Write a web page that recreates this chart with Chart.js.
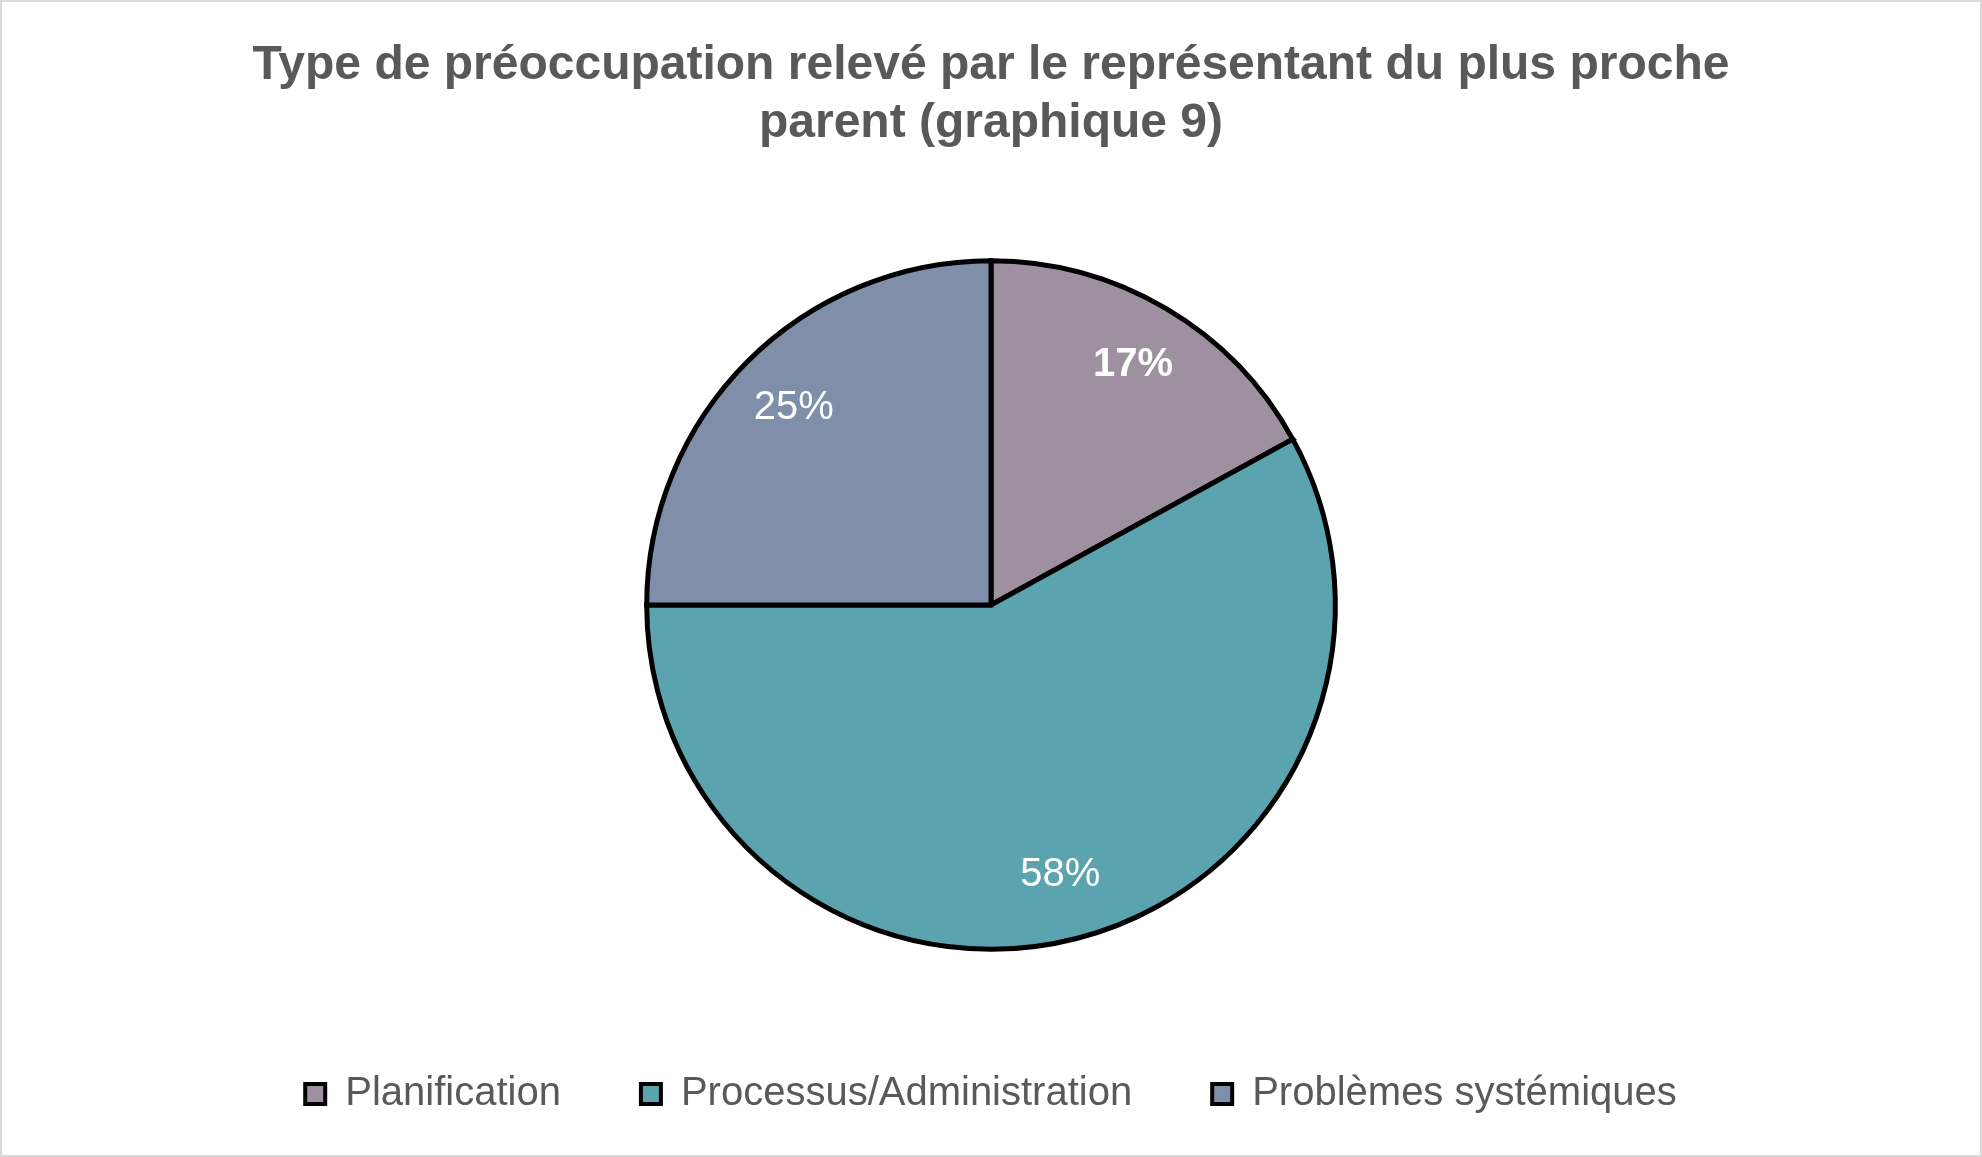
<!DOCTYPE html>
<html lang="fr">
<head>
<meta charset="utf-8">
<title>Graphique 9</title>
<script src="https://cdn.jsdelivr.net/npm/chart.js@4.4.1/dist/chart.umd.min.js"></script>
<style>
  html, body { margin: 0; padding: 0; background: #fff; }
  #wrap {
    width: 1982px;
    height: 1157px;
    box-sizing: border-box;
    border: 2px solid #d9d9d9;
    position: relative;
  }
</style>
</head>
<body>
<div id="wrap"><canvas id="graphique9"></canvas></div>
<script>
const categories = ['Planification', 'Processus/Administration', 'Problèmes systémiques'];
const shares = [17, 58, 25];
const sliceColors = ['#9e90a0', '#5ba3af', '#7f8fa9'];
const titleLines = ['Type de préoccupation relevé par le représentant du plus proche', 'parent (graphique 9)'];

const font = "'Liberation Sans', Arial, sans-serif";

// etiquettes en pourcentage dans chaque part
const sliceLabels = {
    id: 'sliceLabels',
    afterDatasetsDraw(chart) {
        const ctx = chart.ctx;
        const meta = chart.getDatasetMeta(0);
        meta.data.forEach((arc, i) => {
            const p = arc.getProps(['x', 'y', 'startAngle', 'endAngle', 'outerRadius']);
            const mid = (p.startAngle + p.endAngle) / 2;
            const r = p.outerRadius * 0.81;
            ctx.save();
            ctx.fillStyle = '#ffffff';
            ctx.font = (i === 0 ? 'bold ' : '') + '40px ' + font;
            ctx.textAlign = 'center';
            ctx.textBaseline = 'middle';
            ctx.fillText(shares[i] + '%', p.x + Math.cos(mid) * r, p.y + Math.sin(mid) * r);
            ctx.restore();
        });
    }
};

new Chart(document.getElementById('graphique9'), {
    type: 'pie',
    plugins: [sliceLabels],
    data: {
        labels: categories,
        datasets: [{
            data: shares,
            backgroundColor: sliceColors,
            borderColor: '#000000',
            borderWidth: 5,
            borderJoinStyle: 'miter'
        }]
    },
    options: {
        responsive: true,
        maintainAspectRatio: false,
        animation: false,
        devicePixelRatio: 1,
        layout: { padding: { top: 10, bottom: 31 } },
        plugins: {
            title: {
                display: true,
                text: titleLines,
                color: '#595959',
                font: { family: font, size: 48, weight: 'bold', lineHeight: 1.2 },
                padding: { top: 25, bottom: 106 }
            },
            legend: {
                position: 'bottom',
                // titre vide pour laisser de l'espace au-dessus de la legende
                title: {
                    display: true,
                    text: ' ',
                    font: { size: 1 },
                    padding: { top: 0, bottom: 41 }
                },
                labels: {
                    color: '#595959',
                    font: { family: font, size: 40 },
                    boxWidth: 20,
                    boxHeight: 20,
                    padding: 80,
                    generateLabels(chart) {
                        return categories.map((c, i) => ({
                            text: c,
                            fillStyle: sliceColors[i],
                            strokeStyle: '#000000',
                            lineWidth: 4,
                            fontColor: '#595959',
                            index: i
                        }));
                    }
                }
            },
            tooltip: { enabled: false }
        }
    }
});
</script>
</body>
</html>
